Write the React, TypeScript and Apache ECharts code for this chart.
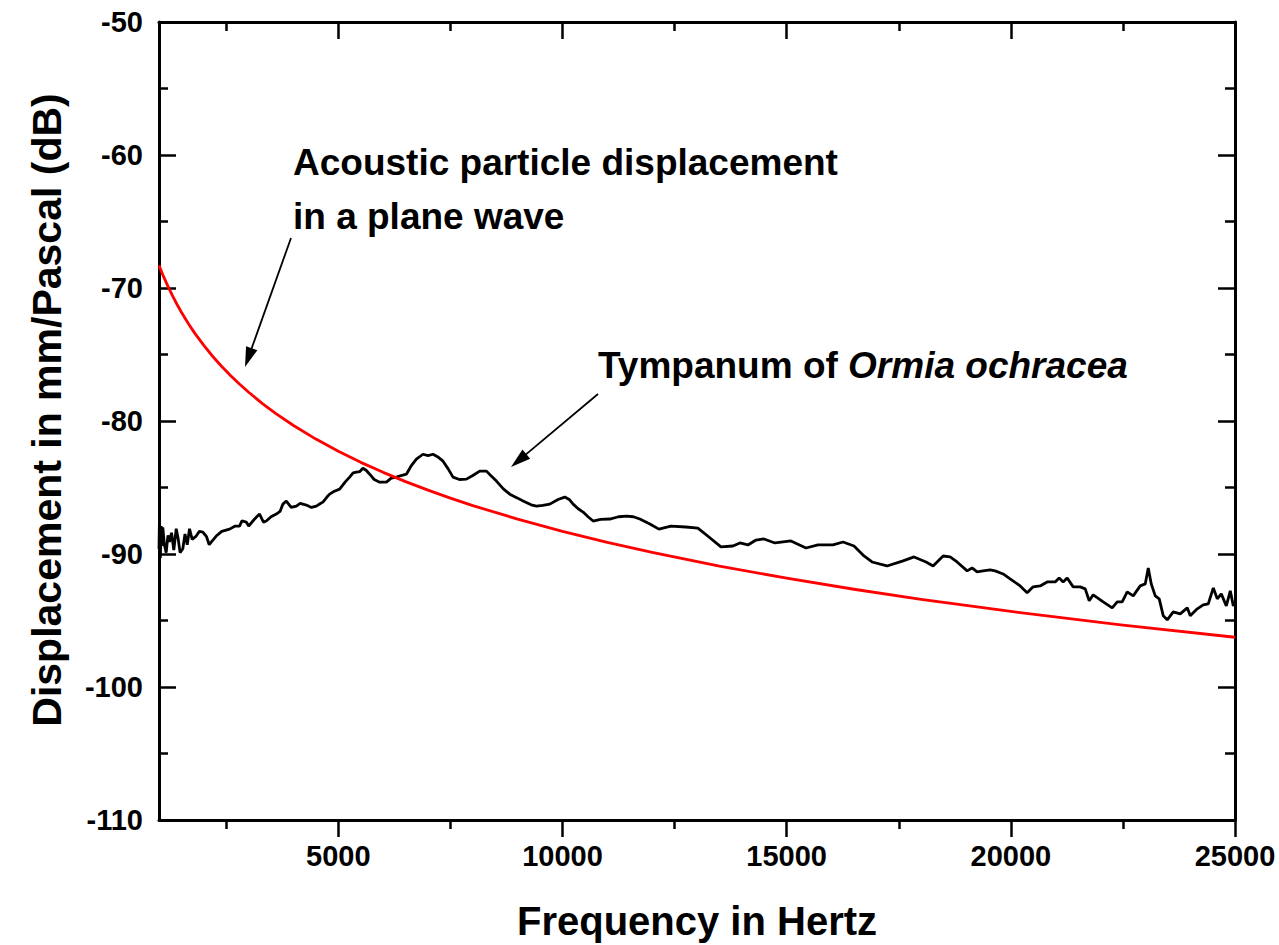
import React, { useEffect, useRef } from 'react';
import * as echarts from 'echarts';

const FONT = '"Liberation Sans", Arial, Helvetica, sans-serif';

const xMajorTicks = [5000, 10000, 15000, 20000, 25000];
const xMinorTicks = [2500, 7500, 12500, 17500, 22500];

// Acoustic particle displacement in a plane wave (red curve)
const planeFreq = [1000, 1100, 1200, 1300, 1400, 1500, 1650, 1800, 2000, 2200, 2400, 2600, 2800, 3000, 3300, 3600, 4000, 4500, 5000, 5500, 6000, 6500, 7000, 7500, 8000, 9000, 10000, 11000, 12000, 13500, 15000, 16500, 18000, 20000, 22500, 25000];
const planeDb = [-68.3, -69.13, -69.88, -70.58, -71.22, -71.82, -72.65, -73.41, -74.32, -75.15, -75.9, -76.6, -77.24, -77.84, -78.67, -79.43, -80.34, -81.36, -82.28, -83.11, -83.86, -84.56, -85.2, -85.8, -86.36, -87.38, -88.3, -89.13, -89.88, -90.91, -91.82, -92.65, -93.41, -94.32, -95.34, -96.26];

// Tympanum of Ormia ochracea (black curve)
const tympFreq = [
  1000, 1011, 1030, 1049, 1070, 1085, 1120, 1160, 1200, 1234, 1280, 1330, 1384, 1430, 1470, 1531, 1580, 1630, 1681, 1740,
  1830, 1900, 1978, 2060, 2120, 2165, 2277, 2400, 2574, 2700, 2797, 2850, 2946, 3000, 3094, 3180, 3243, 3330, 3393, 3500,
  3616, 3700, 3763, 3839, 3950, 4063, 4150, 4286, 4400, 4509, 4600, 4656, 4750, 4806, 4900, 5029, 5150, 5252, 5330, 5402,
  5480, 5549, 5620, 5699, 5800, 5922, 6071, 6180, 6295, 6400, 6518, 6620, 6741, 6888, 7000, 7112, 7220, 7335, 7450, 7558,
  7700, 7857, 8000, 8154, 8304, 8400, 8527, 8680, 8824, 9000, 9121, 9300, 9420, 9560, 9717, 9900, 10051, 10150, 10237, 10350,
  10460, 10570, 10683, 10850, 11056, 11250, 11429, 11580, 11725, 11949, 12150, 12418, 12752, 13020, 13266, 13534, 13801, 13958, 14136, 14315,
  14493, 14739, 15096, 15431, 15699, 16034, 16257, 16502, 16725, 16904, 17239, 17596, 17842, 18109, 18266, 18489, 18645, 18801, 19025, 19136,
  19248, 19382, 19538, 19650, 19828, 19984, 20208, 20364, 20498, 20654, 20810, 20989, 21078, 21167, 21257, 21391, 21547, 21659, 21748, 21837,
  22060, 22261, 22373, 22484, 22596, 22730, 22886, 22998, 23065, 23132, 23221, 23310, 23400, 23489, 23623, 23779, 23935, 24002, 24158, 24292,
  24404, 24516, 24605, 24694, 24806, 24895, 24962, 25000
];
const tympDb = [
  -89.6, -87.2, -90.3, -87.9, -89.4, -88.0, -89.3, -89.9, -88.6, -89.1, -88.4, -89.7, -88.1, -88.9, -89.9, -89.6, -88.5, -89.3, -88.1, -88.9,
  -88.65, -88.3, -88.35, -88.7, -89.3, -89.1, -88.65, -88.3, -88.13, -87.9, -87.9, -87.5, -87.6, -87.9, -87.52, -87.2, -87.0, -87.6, -87.52, -87.2,
  -87.0, -86.8, -86.25, -86.02, -86.5, -86.4, -86.2, -86.32, -86.5, -86.4, -86.2, -86.1, -85.7, -85.5, -85.3, -85.12, -84.6, -84.22, -83.9, -83.85,
  -83.8, -83.55, -83.7, -84.0, -84.4, -84.6, -84.6, -84.3, -84.22, -84.1, -84.0, -83.4, -82.87, -82.5, -82.6, -82.5, -82.7, -83.02, -83.6, -84.22,
  -84.4, -84.37, -84.1, -83.77, -83.77, -84.1, -84.52, -85.1, -85.5, -85.8, -86.02, -86.3, -86.4, -86.35, -86.25, -85.9, -85.72, -85.9, -86.25, -86.6,
  -86.85, -87.2, -87.52, -87.4, -87.37, -87.2, -87.15, -87.2, -87.37, -87.75, -88.13, -87.9, -87.97, -88.05, -88.72, -89.47, -89.4, -89.17, -89.32, -88.95,
  -88.87, -89.17, -89.02, -89.55, -89.32, -89.32, -89.1, -89.4, -90.15, -90.6, -90.9, -90.52, -90.22, -90.6, -90.9, -90.15, -90.22, -90.6, -91.27, -91.05,
  -91.35, -91.27, -91.2, -91.27, -91.5, -91.87, -92.4, -92.92, -92.47, -92.4, -92.1, -92.1, -91.8, -92.1, -91.8, -92.47, -92.47, -92.62, -93.52, -93.07,
  -93.6, -94.05, -93.6, -93.6, -92.85, -93.15, -92.4, -92.25, -91.05, -92.25, -93.15, -93.37, -94.65, -94.95, -94.35, -94.5, -94.05, -94.65, -94.12, -93.82,
  -93.75, -92.55, -93.37, -93.0, -93.9, -92.77, -93.9, -93.6
];

const xAxisTitle = 'Frequency in Hertz';
const yAxisTitle = 'Displacement in mm/Pascal (dB)';
const noteLine1 = 'Acoustic particle displacement';
const noteLine2 = 'in a plane wave';
const noteTymp = 'Tympanum of ';
const noteSpecies = 'Ormia ochracea';

function zip(xs: number[], ys: number[]) {
  return xs.map((x, i) => [x, ys[i]]);
}

function arrow(x1: number, y1: number, x2: number, y2: number) {
  const dx = x2 - x1;
  const dy = y2 - y1;
  const len = Math.sqrt(dx * dx + dy * dy);
  const ux = dx / len;
  const uy = dy / len;
  const L = 20;
  const w = 6;
  const bx = x2 - ux * L;
  const by = y2 - uy * L;
  const px = -uy;
  const py = ux;
  return [
    {
      type: 'line',
      shape: { x1, y1, x2: bx + ux * 2, y2: by + uy * 2 },
      style: { stroke: '#000', lineWidth: 1.8 },
    },
    {
      type: 'polygon',
      shape: {
        points: [
          [x2, y2],
          [bx + px * w, by + py * w],
          [bx - px * w, by - py * w],
        ],
      },
      style: { fill: '#000' },
    },
  ];
}

export default function App() {
  const ref = useRef<HTMLDivElement>(null);

  useEffect(() => {
    if (!ref.current) return;
    const chart = echarts.init(ref.current, undefined, { renderer: 'svg' });

    const axisLine = { show: true, onZero: false, lineStyle: { color: '#000', width: 3 } };
    const baseX = { type: 'value', min: 1000, max: 25000, splitLine: { show: false } };
    const baseY = { type: 'value', min: -110, max: -50, interval: 10, splitLine: { show: false } };
    const labelFont = { color: '#000', fontSize: 29, fontWeight: 'bold', fontFamily: FONT };

    const option: any = {
      animation: false,
      backgroundColor: '#fff',
      grid: { left: 159, right: 44, top: 22, bottom: 125, containLabel: false },
      xAxis: [
        {
          ...baseX,
          position: 'bottom',
          axisLine,
          axisTick: { show: true, inside: false, length: 17, customValues: xMajorTicks, lineStyle: { color: '#000', width: 2.5 } },
          axisLabel: {
            show: true,
            customValues: xMajorTicks,
            margin: 21,
            formatter: (v: number) => String(v),
            ...labelFont,
          },
        },
        {
          ...baseX,
          position: 'bottom',
          axisLine: { show: false },
          axisTick: { show: true, inside: false, length: 9, customValues: xMinorTicks, lineStyle: { color: '#000', width: 2.5 } },
          axisLabel: { show: false },
        },
        {
          ...baseX,
          position: 'top',
          axisLine,
          axisTick: { show: true, inside: true, length: 17, customValues: xMajorTicks, lineStyle: { color: '#000', width: 2.5 } },
          axisLabel: { show: false },
        },
        {
          ...baseX,
          position: 'top',
          axisLine: { show: false },
          axisTick: { show: true, inside: true, length: 9, customValues: xMinorTicks, lineStyle: { color: '#000', width: 2.5 } },
          axisLabel: { show: false },
        },
      ],
      yAxis: [
        {
          ...baseY,
          position: 'left',
          axisLine,
          axisTick: { show: true, inside: true, length: 17, lineStyle: { color: '#000', width: 2.5 } },
          minorTick: { show: true, splitNumber: 2, length: 9, lineStyle: { color: '#000', width: 2.5 } },
          axisLabel: {
            show: true,
            margin: 16,
            formatter: (v: number) => String(v),
            ...labelFont,
          },
        },
        {
          ...baseY,
          position: 'right',
          axisLine,
          axisTick: { show: true, inside: true, length: 17, lineStyle: { color: '#000', width: 2.5 } },
          minorTick: { show: true, splitNumber: 2, length: 10, lineStyle: { color: '#000', width: 2.5 } },
          axisLabel: { show: false },
        },
      ],
      series: [
        {
          name: 'Tympanum of Ormia ochracea',
          type: 'line',
          xAxisIndex: 0,
          yAxisIndex: 0,
          data: zip(tympFreq, tympDb),
          showSymbol: false,
          symbol: 'none',
          lineStyle: { color: '#000', width: 2.8 },
          z: 3,
        },
        {
          name: 'Acoustic particle displacement in a plane wave',
          type: 'line',
          xAxisIndex: 0,
          yAxisIndex: 0,
          data: zip(planeFreq, planeDb),
          showSymbol: false,
          symbol: 'none',
          lineStyle: { color: '#ff0000', width: 2.8, join: 'round' },
          z: 4,
        },
      ],
      graphic: [
        {
          type: 'text',
          x: 697,
          y: 921,
          style: {
            text: xAxisTitle,
            fill: '#000',
            font: `bold 40px ${FONT}`,
            align: 'center',
            verticalAlign: 'middle',
          },
        },
        {
          type: 'text',
          x: 47,
          y: 410,
          rotation: Math.PI / 2,
          style: {
            text: yAxisTitle,
            fill: '#000',
            font: `bold 41px ${FONT}`,
            align: 'center',
            verticalAlign: 'middle',
          },
        },
        {
          type: 'text',
          x: 293,
          y: 162,
          style: {
            text: noteLine1,
            fill: '#000',
            font: `bold 37px ${FONT}`,
            align: 'left',
            verticalAlign: 'middle',
          },
        },
        {
          type: 'text',
          x: 293,
          y: 216,
          style: {
            text: noteLine2,
            fill: '#000',
            font: `bold 37px ${FONT}`,
            align: 'left',
            verticalAlign: 'middle',
          },
        },
        {
          type: 'text',
          x: 598,
          y: 365,
          style: {
            text: `{n|${noteTymp}}{i|${noteSpecies}}`,
            align: 'left',
            verticalAlign: 'middle',
            rich: {
              n: { fill: '#000', fontSize: 37, fontWeight: 'bold', fontFamily: FONT },
              i: { fill: '#000', fontSize: 37, fontWeight: 'bold', fontStyle: 'italic', fontFamily: FONT },
            },
          },
        },
        ...arrow(291, 238, 245, 367),
        ...arrow(598, 394, 511, 467),
      ],
    };

    chart.setOption(option);
    return () => {
      chart.dispose();
    };
  }, []);

  return (
    <div
      ref={ref}
      style={{ position: 'fixed', left: 0, top: 0, width: 1279, height: 945, background: '#fff' }}
    />
  );
}
